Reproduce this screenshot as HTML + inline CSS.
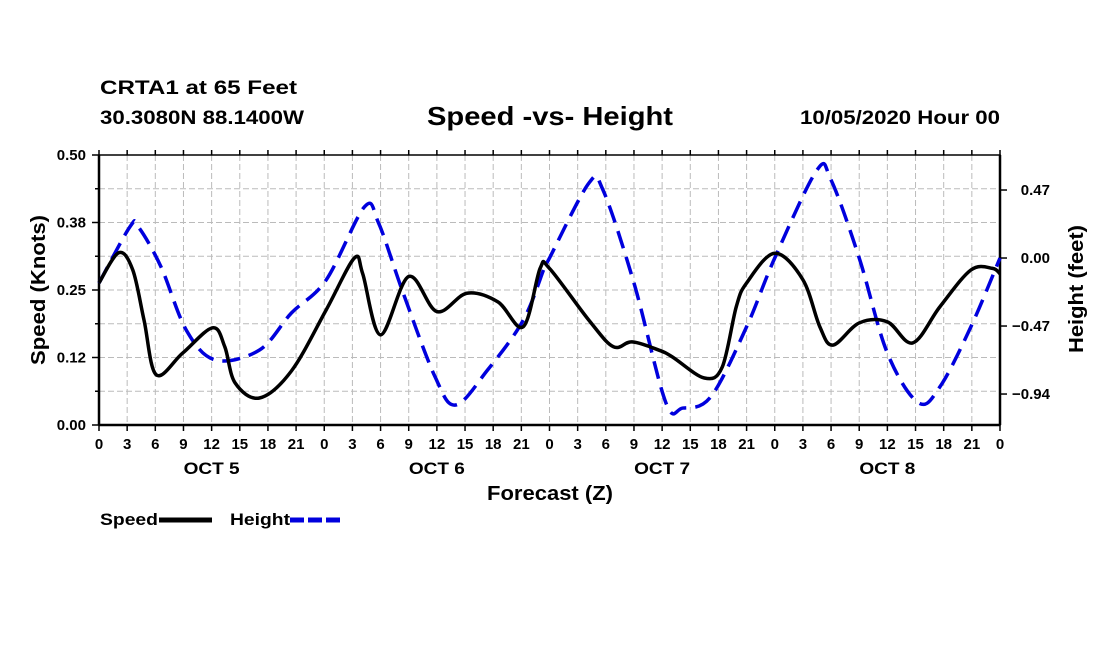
<!DOCTYPE html>
<html><head><meta charset="utf-8"><style>
body{margin:0;background:#fff;}
svg{display:block;font-family:"Liberation Sans",sans-serif;font-weight:bold;}
</style></head><body>
<svg id="chart" width="1100" height="650">
<text x="100" y="94" font-size="19" textLength="197" lengthAdjust="spacingAndGlyphs">CRTA1 at 65 Feet</text>
<text x="100" y="124" font-size="19" textLength="204" lengthAdjust="spacingAndGlyphs">30.3080N 88.1400W</text>
<text x="427" y="125" font-size="26" textLength="246" lengthAdjust="spacingAndGlyphs">Speed -vs- Height</text>
<text x="800" y="124" font-size="19" textLength="200" lengthAdjust="spacingAndGlyphs">10/05/2020 Hour 00</text>
<g id="grid"></g><g id="axes"></g><g id="series"></g>
<text x="487" y="500" font-size="20" textLength="126" lengthAdjust="spacingAndGlyphs">Forecast (Z)</text>
<text transform="translate(45,365) rotate(-90)" font-size="20" textLength="150" lengthAdjust="spacingAndGlyphs">Speed (Knots)</text>
<text transform="translate(1083,353) rotate(-90)" font-size="20" textLength="128" lengthAdjust="spacingAndGlyphs">Height (feet)</text>
<g>
<text x="100" y="525" font-size="17" textLength="58" lengthAdjust="spacingAndGlyphs">Speed</text>
<line x1="159" y1="520" x2="212" y2="520" stroke="#000" stroke-width="5"/>
<text x="230" y="525" font-size="17" textLength="60" lengthAdjust="spacingAndGlyphs">Height</text>
<line x1="290" y1="520" x2="342" y2="520" stroke="#0000dd" stroke-width="5" stroke-dasharray="14,4"/>
</g>
</svg>
<script>
const speedHours=[0,2.1,3.6,4.8,6.1,8.9,12.1,13.4,14.5,17.1,20.5,24.2,27.2,28.1,30,33,36,39.2,42.5,45.2,47,48,52.2,54.8,56.8,59.6,61.1,64.5,66.4,67.9,69,72,75,76.8,78.2,81,84,86.7,89.6,92.9,95.2,96];
const speedValues=[0.263,0.319,0.287,0.194,0.093,0.133,0.18,0.145,0.078,0.05,0.10,0.213,0.309,0.28,0.167,0.275,0.21,0.244,0.228,0.182,0.29,0.29,0.194,0.145,0.154,0.139,0.126,0.087,0.107,0.219,0.263,0.318,0.269,0.182,0.148,0.189,0.191,0.152,0.219,0.287,0.29,0.28];
const heightHours=[0,3.3,4.2,6.6,9.3,12.4,17.1,20.5,24.2,28.3,29.8,32.4,35.8,38,41.4,45.2,47.5,48,52.2,53.7,57,60.4,62.2,65.2,69,72,76.5,78,81,84,87.3,89.6,92.9,96];
const heightValues=[-0.173,0.216,0.214,-0.06,-0.498,-0.705,-0.636,-0.38,-0.152,0.355,0.24,-0.24,-0.82,-1.016,-0.774,-0.43,-0.06,0,0.518,0.47,-0.173,-1.0,-1.037,-0.958,-0.475,0,0.608,0.539,0,-0.657,-1.0,-0.89,-0.475,0];
const hourLabels=["0","3","6","9","12","15","18","21"];
const dayLabels=["OCT 5","OCT 6","OCT 7","OCT 8"];
const leftTicks=[0,0.125,0.25,0.375,0.5];
const leftTickLabels=["0.00","0.12","0.25","0.38","0.50"];
const rightTicks=[0.47,0,-0.47,-0.94];
const rightTickLabels=["0.47","0.00","\u22120.47","\u22120.94"];

const X0=99,X1=1000,Y0=425,Y1=155;
const HMIN=-1.154,HMAX=0.712;
const xs=h=>X0+(X1-X0)*h/96;
const ys=v=>Y0-(Y0-Y1)*v/0.5;
const yh=v=>Y0-(Y0-Y1)*(v-HMIN)/(HMAX-HMIN);
const NS="http://www.w3.org/2000/svg";
function mk(tag,attrs,parent,text){const e=document.createElementNS(NS,tag);for(const k in attrs)e.setAttribute(k,attrs[k]);if(text!==undefined)e.textContent=text;parent.appendChild(e);return e;}
const grid=document.getElementById('grid'),axes=document.getElementById('axes'),series=document.getElementById('series');
for(let i=1;i<32;i++){const l=mk('line',{x1:xs(i*3),x2:xs(i*3),y1:Y1,y2:Y0,stroke:'#bbb','stroke-dasharray':'6,3'},grid);

}
for(let i=1;i<8;i++){const l=mk('line',{x1:X0,x2:X1,y1:ys(i*0.0625),y2:ys(i*0.0625),stroke:'#bbb','stroke-dasharray':'6,3'},grid);

}
const frame=mk('rect',{x:X0,y:Y1,width:X1-X0,height:Y0-Y1,fill:'none',stroke:'#000','stroke-width':1.5},axes);


mk('line',{x1:X0,x2:X0,y1:Y1,y2:Y0,stroke:'#000','stroke-width':2.5},axes);
mk('line',{x1:X1,x2:X1,y1:Y1,y2:Y0,stroke:'#000','stroke-width':2.5},axes);
mk('line',{x1:X0,x2:X1,y1:Y0,y2:Y0,stroke:'#000','stroke-width':2.5},axes);
for(let i=0;i<=32;i++){const x=xs(i*3);
mk('line',{x1:x,x2:x,y1:Y0,y2:Y0+6,stroke:'#000','stroke-width':1.5},axes);
mk('line',{x1:x,x2:x,y1:Y1,y2:Y1-5,stroke:'#000','stroke-width':1.5},axes);
const t=mk('text',{x:x,y:Y0+24,'font-size':15,'text-anchor':'middle'},axes,hourLabels[i%8]);

}
dayLabels.forEach((d,i)=>{const t=mk('text',{x:xs(i*24+12)-28,y:Y0+49,'font-size':17,textLength:56,lengthAdjust:'spacingAndGlyphs'},axes,d);

});
for(let i=0;i<=8;i++){const y=ys(i*0.0625);mk('line',{x1:X0-(i%2?4:7),x2:X0,y1:y,y2:y,stroke:'#000','stroke-width':1.5},axes);}
leftTicks.forEach((v,i)=>{const t=mk('text',{x:X0-13,y:ys(v)+5,'font-size':15,'text-anchor':'end'},axes,leftTickLabels[i]);

});
rightTicks.forEach((v,i)=>{const y=yh(v);mk('line',{x1:X1,x2:X1+7,y1:y,y2:y,stroke:'#000','stroke-width':1.5},axes);
const t=mk('text',{x:X1+50,y:y+5,'font-size':15,'text-anchor':'end'},axes,rightTickLabels[i]);

});
function smooth(pts){let d=`M${pts[0][0]},${pts[0][1]}`;
for(let i=0;i<pts.length-1;i++){const p0=pts[Math.max(0,i-1)],p1=pts[i],p2=pts[i+1],p3=pts[Math.min(pts.length-1,i+2)];
const c1=[p1[0]+(p2[0]-p0[0])/6,p1[1]+(p2[1]-p0[1])/6],c2=[p2[0]-(p3[0]-p1[0])/6,p2[1]-(p3[1]-p1[1])/6];
d+=`C${c1[0]},${c1[1]} ${c2[0]},${c2[1]} ${p2[0]},${p2[1]}`;}return d;}
const hp=mk('path',{d:smooth(heightHours.map((h,i)=>[xs(h),yh(heightValues[i])])),fill:'none',stroke:'#0000dd','stroke-width':3.5,'stroke-dasharray':'18,9'},series);


const sp=mk('path',{d:smooth(speedHours.map((h,i)=>[xs(h),ys(speedValues[i])])),fill:'none',stroke:'#000','stroke-width':3.5},series);


</script>
</body></html>
